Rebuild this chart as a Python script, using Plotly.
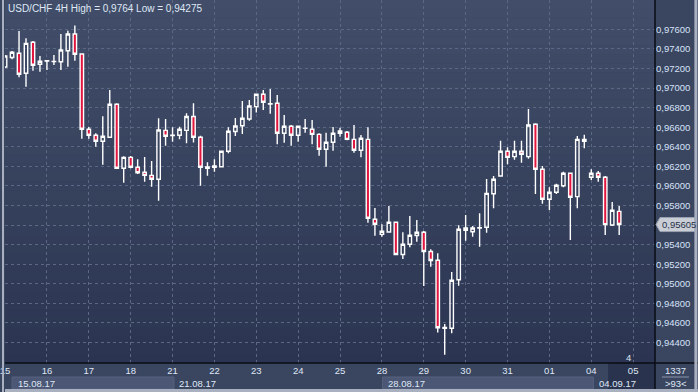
import plotly.graph_objects as go

# ---- data ----
candle_idx = list(range(89))
opens = [0.97215, 0.97312, 0.97355, 0.97151, 0.97468, 0.97243, 0.97277, 0.97271, 0.97269, 0.97382,
         0.97553, 0.97348, 0.96579, 0.96517, 0.96456, 0.96497, 0.96834, 0.96180, 0.96292, 0.96190,
         0.96139, 0.96108, 0.96068, 0.96568, 0.96515, 0.96517, 0.96568, 0.96709, 0.96497, 0.96180,
         0.96190, 0.96196, 0.96354, 0.96556, 0.96615, 0.96684, 0.96810, 0.96936, 0.96839, 0.96844,
         0.96538, 0.96609, 0.96517, 0.96588, 0.96579, 0.96527, 0.96374, 0.96446, 0.96538, 0.96548,
         0.96476, 0.96364, 0.96476, 0.95659, 0.95505, 0.95529, 0.95628, 0.95299, 0.95403, 0.95493,
         0.95526, 0.95330, 0.95240, 0.94545, 0.94545, 0.95041, 0.95570, 0.95532, 0.95568, 0.95577,
         0.95920, 0.96101, 0.96354, 0.96299, 0.96354, 0.96299, 0.96630, 0.96170, 0.95863, 0.95935,
         0.96002, 0.96129, 0.95890, 0.96476, 0.96088, 0.96129, 0.96088, 0.95601, 0.95740]
highs = [0.97338, 0.97379, 0.97583, 0.97509, 0.97481, 0.97328, 0.97284, 0.97338, 0.97553, 0.97586,
         0.97640, 0.97355, 0.96602, 0.96538, 0.96711, 0.96980, 0.96844, 0.96303, 0.96306, 0.96273,
         0.96295, 0.96255, 0.96691, 0.96684, 0.96599, 0.96604, 0.96742, 0.96845, 0.96513, 0.96241,
         0.96272, 0.96360, 0.96599, 0.96694, 0.96868, 0.96878, 0.96939, 0.96980, 0.96990, 0.96929,
         0.96725, 0.96622, 0.96612, 0.96684, 0.96674, 0.96538, 0.96544, 0.96602, 0.96595, 0.96561,
         0.96622, 0.96520, 0.96599, 0.95774, 0.95609, 0.95795, 0.95636, 0.95527, 0.95692, 0.95651,
         0.95539, 0.95353, 0.95311, 0.94589, 0.95120, 0.95597, 0.95703, 0.95590, 0.95720, 0.96071,
         0.96101, 0.96462, 0.96395, 0.96462, 0.96462, 0.96786, 0.96640, 0.96203, 0.95986, 0.96023,
         0.96145, 0.96135, 0.96510, 0.96523, 0.96170, 0.96152, 0.96101, 0.95836, 0.95795]
lows = [0.97205, 0.97294, 0.97110, 0.97014, 0.97177, 0.97167, 0.97185, 0.97236, 0.97185, 0.97218,
        0.97280, 0.96482, 0.96482, 0.96401, 0.96217, 0.96497, 0.96180, 0.96033, 0.96180, 0.96122,
        0.96043, 0.95992, 0.95849, 0.96411, 0.96452, 0.96476, 0.96435, 0.96444, 0.96002, 0.96104,
        0.96145, 0.96190, 0.96333, 0.96510, 0.96531, 0.96666, 0.96750, 0.96776, 0.96738, 0.96425,
        0.96442, 0.96411, 0.96452, 0.96544, 0.96425, 0.96309, 0.96196, 0.96360, 0.96503, 0.96466,
        0.96339, 0.96292, 0.95624, 0.95491, 0.95481, 0.95522, 0.95294, 0.95253, 0.95373, 0.95430,
        0.94977, 0.95174, 0.94502, 0.94275, 0.94494, 0.94980, 0.95440, 0.95481, 0.95379, 0.95522,
        0.95771, 0.96094, 0.96221, 0.96268, 0.96237, 0.96278, 0.95917, 0.95818, 0.95754, 0.95917,
        0.95986, 0.95447, 0.95771, 0.96384, 0.96060, 0.96043, 0.95498, 0.95590, 0.95498]
closes = [0.97328, 0.97366, 0.97141, 0.97457, 0.97233, 0.97274, 0.97280, 0.97273, 0.97389, 0.97553,
          0.97345, 0.96579, 0.96517, 0.96456, 0.96507, 0.96834, 0.96180, 0.96292, 0.96190, 0.96135,
          0.96108, 0.96068, 0.96571, 0.96507, 0.96518, 0.96579, 0.96709, 0.96497, 0.96190, 0.96193,
          0.96203, 0.96354, 0.96558, 0.96612, 0.96691, 0.96817, 0.96936, 0.96855, 0.96836, 0.96538,
          0.96609, 0.96517, 0.96609, 0.96591, 0.96527, 0.96374, 0.96446, 0.96538, 0.96561, 0.96476,
          0.96364, 0.96487, 0.95669, 0.95608, 0.95536, 0.95628, 0.95299, 0.95403, 0.95495, 0.95526,
          0.95330, 0.95238, 0.94551, 0.94553, 0.95035, 0.95557, 0.95546, 0.95570, 0.95572, 0.95924,
          0.96068, 0.96354, 0.96292, 0.96354, 0.96323, 0.96622, 0.96170, 0.95863, 0.95935, 0.96006,
          0.96129, 0.95884, 0.96476, 0.96456, 0.96129, 0.96088, 0.95604, 0.95751, 0.95605]

day_pos = [0, 6, 12, 18, 24, 30, 36, 42, 48, 54, 60, 66, 72, 78, 84, 90]
day_labels = ["15", "16", "17", "18", "21", "22", "23", "24", "25",
              "28", "29", "30", "31", "01", "04", "05"]
week_pos = [0, 24, 54, 84]
week_labels = ["15.08.17", "21.08.17", "28.08.17", "04.09.17"]
price_ticks = [0.944, 0.946, 0.948, 0.950, 0.952, 0.954, 0.956, 0.958, 0.960,
               0.962, 0.964, 0.966, 0.968, 0.970, 0.972, 0.974, 0.976]
price_labels = ["0,94400", "0,94600", "0,94800", "0,95000", "0,95200", "0,95400", "",
                "0,95800", "0,96000", "0,96200", "0,96400", "0,96600", "0,96800",
                "0,97000", "0,97200", "0,97400", "0,97600"]
title_text = "USD/CHF 4H High = 0,9764 Low = 0,94275"
last_price_text = "0,95605"
info_top = "1337"
info_bottom = ">93<"
countdown_text = "4"

# ---- layout geometry (pixels) ----
W, H = 698, 392
L, R, T, B = 3, 655, 0, 363          # plot area
PW, PH = R - L, B - T
FONT = "Liberation Sans, Arial, sans-serif"
TXT = "#dfe7f5"


def px(xp):
    return (xp - L) / PW


def py(yp):
    return (B - yp) / PH


fig = go.Figure()
fig.add_trace(go.Candlestick(
    x=candle_idx, open=opens, high=highs, low=lows, close=closes,
    increasing=dict(line=dict(color="#ffffff", width=1.4), fillcolor="rgba(0,0,0,0)"),
    decreasing=dict(line=dict(color="#ffffff", width=1.4), fillcolor="#e2173f"),
    whiskerwidth=0, hoverinfo="skip",
))

shapes = []
# vertical gradient background of the plot area
top_c = (66, 78, 105)
bot_c = (43, 53, 81)
n = 40
for k in range(n):
    t = k / (n - 1)
    c = tuple(round(top_c[j] + (bot_c[j] - top_c[j]) * t) for j in range(3))
    shapes.append(dict(type="rect", xref="paper", yref="paper", layer="below",
                       x0=0, x1=1, y0=1 - (k + 1) / n, y1=1 - k / n,
                       fillcolor="rgb(%d,%d,%d)" % c, line=dict(width=0)))

# week boxes in the lower strip
shapes.append(dict(type="rect", xref="x", yref="paper", x0=1.0, x1=week_pos[1] + 0.2,
                   y0=py(389), y1=py(377), fillcolor="#4b5774",
                   line=dict(color="#56627e", width=1), layer="below"))
shapes.append(dict(type="rect", xref="x", yref="paper", x0=week_pos[2] + 0.1, x1=week_pos[3] + 0.3,
                   y0=py(389), y1=py(377), fillcolor="#4b5774",
                   line=dict(color="#56627e", width=1), layer="below"))
# future (dark) zone under the axis
shapes.append(dict(type="rect", xref="paper", yref="paper", x0=px(608), x1=px(655),
                   y0=py(389), y1=py(363), fillcolor="#29334d", line=dict(width=0), layer="below"))

# black axis separators
shapes.append(dict(type="line", xref="paper", yref="paper", x0=1, x1=1, y0=py(392), y1=1,
                   line=dict(color="#0a0d14", width=1.5)))
shapes.append(dict(type="line", xref="paper", yref="paper", x0=0, x1=px(W), y0=0, y1=0,
                   line=dict(color="#0a0d14", width=1.5)))
# separator line in info box
shapes.append(dict(type="line", xref="paper", yref="paper", x0=px(662), x1=px(689),
                   y0=py(377), y1=py(377), line=dict(color="#8c96aa", width=1)))
# outer frame (left, right, bottom)
shapes.append(dict(type="line", xref="paper", yref="paper", x0=px(1), x1=px(1), y0=py(392), y1=1,
                   line=dict(color="#a9b1c0", width=2)))
shapes.append(dict(type="line", xref="paper", yref="paper", x0=px(696), x1=px(696), y0=py(392), y1=1,
                   line=dict(color="#a9b1c0", width=3)))
shapes.append(dict(type="line", xref="paper", yref="paper", x0=0, x1=px(W), y0=py(390.5), y1=py(390.5),
                   line=dict(color="#a9b1c0", width=3)))

# last-price tag on the right axis
ymin, ymax = 0.94190, 0.97900
last = closes[-1]
ly = B - (last - ymin) / (ymax - ymin) * PH
shapes.append(dict(type="path", xref="paper", yref="paper",
                   path="M %f %f L %f %f L %f %f L %f %f L %f %f Z" % (
                       px(656), py(ly), px(660), py(ly - 7), px(695), py(ly - 7),
                       px(695), py(ly + 7), px(660), py(ly + 7)),
                   fillcolor="#c9cdd6", line=dict(color="#9aa2b2", width=1)))

annotations = [
    dict(text=title_text, xref="paper", yref="paper", x=px(4), y=py(8), xanchor="left",
         yanchor="middle", showarrow=False, font=dict(family=FONT, size=10, color=TXT)),
    dict(text=last_price_text, xref="paper", yref="paper", x=px(660), y=py(ly), xanchor="left",
         yanchor="middle", showarrow=False, font=dict(family=FONT, size=9.5, color="#27324a")),
    dict(text=info_top, xref="paper", yref="paper", x=px(676), y=py(370), xanchor="center",
         yanchor="middle", showarrow=False, font=dict(family=FONT, size=9.5, color=TXT)),
    dict(text=info_bottom, xref="paper", yref="paper", x=px(676), y=py(383), xanchor="center",
         yanchor="middle", showarrow=False, font=dict(family=FONT, size=9.5, color=TXT)),
    dict(text=countdown_text, xref="paper", yref="paper", x=px(628), y=py(357), xanchor="center",
         yanchor="middle", showarrow=False, font=dict(family=FONT, size=9.5, color=TXT)),
]
week_x = [1.6, week_pos[1] + 0.65, week_pos[2] + 0.65, week_pos[3] + 0.8]
for wx, wl in zip(week_x, week_labels):
    annotations.append(dict(text=wl, xref="x", yref="paper", x=wx, y=py(383), xanchor="left",
                            yanchor="middle", showarrow=False,
                            font=dict(family=FONT, size=9.5, color=TXT)))

fig.update_layout(
    width=W, height=H,
    margin=dict(l=L, r=W - R, t=T, b=H - B),
    paper_bgcolor="#3a4560",
    plot_bgcolor="#36415d",
    showlegend=False,
    shapes=shapes,
    annotations=annotations,
    hovermode=False,
    xaxis=dict(
        range=[-0.01, PW / 7.0 - 0.01],
        rangeslider=dict(visible=False),
        tickmode="array", tickvals=day_pos, ticktext=day_labels,
        ticklabeloverflow="allow",
        showgrid=True, gridcolor="#5a6785", griddash="3px,3px", gridwidth=1,
        zeroline=False, showline=False, ticks="",
        tickfont=dict(family=FONT, size=9.5, color=TXT),
        fixedrange=True,
    ),
    yaxis=dict(
        side="right",
        range=[ymin, ymax],
        tickmode="array", tickvals=price_ticks, ticktext=price_labels,
        showgrid=True, gridcolor="#5a6785", griddash="3px,3px", gridwidth=1,
        zeroline=False, showline=False, ticks="",
        tickfont=dict(family=FONT, size=9.5, color="#d6e2f8"),
        fixedrange=True,
    ),
)

fig.write_html(
    "out.html",
    config={"displayModeBar": False, "staticPlot": True},
    post_script="document.body.style.margin='0';document.body.style.overflow='hidden';",
)
